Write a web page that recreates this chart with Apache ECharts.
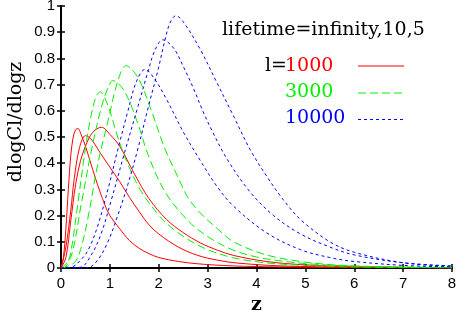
<!DOCTYPE html>
<html>
<head>
<meta charset="utf-8">
<script src="https://cdn.jsdelivr.net/npm/echarts@6/dist/echarts.min.js"></script>
<style>
html,body{margin:0;padding:0;background:#fff;}
#chart{width:458px;height:319px;}
</style>
</head>
<body>
<div id="chart"></div>
<script>
// x-axis ticks and y-axis ticks
var xTicks = [0,1,2,3,4,5,6,7,8];
var yTicks = [0,0.1,0.2,0.3,0.4,0.5,0.6,0.7,0.8,0.9,1];

// l=1000 (red, solid) — lifetime = infinity, 10, 5
var redA_z = [0,0.05,0.1,0.15,0.2,0.25,0.3,0.35,0.4,0.5,0.6,0.7,0.8,0.9,1.0,1.2,1.4,1.6,1.8,2.0,2.4,2.8,3.5,4.5,6,8];
var redA_v = [0,0.04,0.15,0.3,0.43,0.5,0.528,0.532,0.515,0.465,0.405,0.345,0.29,0.24,0.2,0.15,0.105,0.075,0.055,0.04,0.025,0.016,0.008,0.004,0.002,0.001];
var redB_z = [0,0.1,0.2,0.27,0.38,0.5,0.6,0.7,0.8,1.0,1.2,1.4,1.6,1.8,2.0,2.4,2.8,3.2,3.6,4.5,6,8];
var redB_v = [0,0.08,0.22,0.34,0.46,0.505,0.495,0.47,0.44,0.385,0.33,0.27,0.215,0.165,0.13,0.08,0.048,0.03,0.019,0.008,0.003,0.001];
var redC_z = [0,0.1,0.2,0.3,0.4,0.5,0.6,0.7,0.83,1.0,1.2,1.5,1.8,2.16,2.5,2.85,3.2,3.53,4.2,4.9,6,8];
var redC_v = [0,0.04,0.18,0.32,0.41,0.465,0.505,0.527,0.537,0.51,0.465,0.36,0.265,0.185,0.135,0.096,0.068,0.048,0.025,0.013,0.005,0.001];

// l=3000 (green, dashed)
var grnA_z = [0,0.1,0.2,0.34,0.51,0.62,0.72,0.8,0.96,1.16,1.37,1.64,1.99,2.26,2.6,3.0,3.5,4.0,4.5,5,6,8];
var grnA_v = [0,0.005,0.06,0.24,0.47,0.585,0.655,0.672,0.62,0.5,0.395,0.293,0.204,0.154,0.109,0.07,0.04,0.024,0.015,0.01,0.004,0.001];
var grnB_z = [0,0.2,0.41,0.62,0.82,0.96,1.06,1.3,1.58,1.78,2.12,2.6,3.0,3.5,4.0,4.5,5,6,8];
var grnB_v = [0,0.04,0.24,0.446,0.61,0.687,0.715,0.674,0.547,0.433,0.293,0.18,0.12,0.07,0.042,0.027,0.017,0.007,0.002];
var grnC_z = [0,0.27,0.4,0.55,0.75,0.96,1.16,1.33,1.58,1.85,2.12,2.4,2.6,2.85,3.2,3.53,4.2,4.9,5.5,6,7,8];
var grnC_v = [0,0.02,0.07,0.19,0.395,0.56,0.712,0.772,0.725,0.6,0.458,0.344,0.268,0.21,0.15,0.1,0.05,0.025,0.013,0.008,0.003,0.001];

// l=10000 (blue, dotted)
var bluA_z = [0,0.2,0.4,0.56,0.75,0.96,1.16,1.37,1.54,1.72,1.92,2.17,2.5,2.85,3.19,3.53,4.21,4.9,5.5,6,7,8];
var bluA_v = [0,0.002,0.03,0.07,0.16,0.3,0.45,0.6,0.71,0.758,0.72,0.64,0.52,0.41,0.312,0.236,0.134,0.07,0.04,0.025,0.01,0.004];
var bluB_z = [0,0.4,0.62,0.82,1.03,1.3,1.58,1.78,1.92,2.08,2.3,2.5,2.7,2.9,3.1,3.4,3.87,4.35,4.9,5.5,6,7,8];
var bluB_v = [0,0.003,0.05,0.13,0.26,0.44,0.62,0.75,0.83,0.871,0.84,0.77,0.69,0.6,0.52,0.415,0.29,0.2,0.13,0.08,0.05,0.02,0.008];
var bluC_z = [0,0.55,0.75,0.96,1.16,1.37,1.58,1.78,1.99,2.12,2.23,2.35,2.5,2.85,3.19,3.53,3.87,4.21,4.55,4.9,5.5,6,7,8];
var bluC_v = [0,0.002,0.03,0.1,0.2,0.32,0.46,0.61,0.76,0.865,0.935,0.963,0.94,0.834,0.707,0.58,0.452,0.35,0.26,0.185,0.1,0.06,0.02,0.006];

function pairs(zs, vs){ return zs.map(function(z,i){ return [z, vs[i]]; }); }

var RED = '#ff0000', GREEN = '#00f000', BLUE = '#0000ff';
var DASH = [8,4], DOT = [3,3];
var curves = [
  {z:redA_z, v:redA_v, c:RED, t:'solid'},
  {z:redB_z, v:redB_v, c:RED, t:'solid'},
  {z:redC_z, v:redC_v, c:RED, t:'solid'},
  {z:grnA_z, v:grnA_v, c:GREEN, t:DASH},
  {z:grnB_z, v:grnB_v, c:GREEN, t:DASH},
  {z:grnC_z, v:grnC_v, c:GREEN, t:DASH},
  {z:bluA_z, v:bluA_v, c:BLUE, t:DOT},
  {z:bluB_z, v:bluB_v, c:BLUE, t:DOT},
  {z:bluC_z, v:bluC_v, c:BLUE, t:DOT}
];

var chart = echarts.init(document.getElementById('chart'), null, {renderer:'canvas'});
var sans = 'Liberation Sans';
var serif = 'DejaVu Serif';
var axisLine = {show:true, lineStyle:{color:'#000', width:2}};
var tickIn = {show:true, inside:true, length:4, lineStyle:{color:'#000', width:1.5}};

var option = {
  animation:false,
  backgroundColor:'#fff',
  grid:{left:61, right:6, top:6, bottom:51, containLabel:false, outerBoundsMode:'none'},
  xAxis:[
    {type:'value', min:xTicks[0], max:xTicks[xTicks.length-1], interval:1, position:'bottom',
     axisLine:axisLine, axisTick:tickIn, splitLine:{show:false},
     axisLabel:{color:'#000', fontFamily:sans, fontSize:15, margin:8},
     name:'z', nameLocation:'middle', nameGap:28,
     nameTextStyle:{color:'#000', fontFamily:serif, fontSize:19, fontWeight:'bold'}},
    {type:'value', min:xTicks[0], max:xTicks[xTicks.length-1], interval:1, position:'top',
     axisLine:axisLine, axisTick:tickIn, axisLabel:{show:false}, splitLine:{show:false}}
  ],
  yAxis:[
    {type:'value', min:yTicks[0], max:yTicks[yTicks.length-1], interval:0.1, position:'left',
     axisLine:axisLine, axisTick:tickIn, splitLine:{show:false},
     axisLabel:{color:'#000', fontFamily:sans, fontSize:15, margin:6}},
    {type:'value', min:yTicks[0], max:yTicks[yTicks.length-1], interval:0.1, position:'right',
     axisLine:axisLine, axisTick:tickIn, axisLabel:{show:false}, splitLine:{show:false}}
  ],
  series: curves.map(function(cv){
    return {type:'line', xAxisIndex:0, yAxisIndex:0, data:pairs(cv.z, cv.v),
      showSymbol:false, smooth:0.35, clip:true, silent:true,
      lineStyle:{color:cv.c, width:1, type:cv.t}};
  }),
  graphic:[
    {type:'text', x:16, y:122, rotation:Math.PI/2,
     style:{text:'dlogCl/dlogz', fill:'#000', font:'19px "DejaVu Serif"', align:'center', verticalAlign:'middle'}},
    {type:'text', left:222, top:21, style:{text:'lifetime=infinity,10,5', fill:'#000', font:'19px "DejaVu Serif"'}},
    {type:'text', left:265, top:57, style:{text:'l=', fill:'#000', font:'19px "DejaVu Serif"'}},
    {type:'text', left:285, top:57, style:{text:'1000', fill:RED, font:'19px "DejaVu Serif"'}},
    {type:'text', left:285, top:83, style:{text:'3000', fill:GREEN, font:'19px "DejaVu Serif"'}},
    {type:'text', left:285, top:109, style:{text:'10000', fill:BLUE, font:'19px "DejaVu Serif"'}},
    {type:'line', shape:{x1:358, y1:66, x2:404, y2:66}, style:{stroke:RED, lineWidth:1}},
    {type:'line', shape:{x1:358, y1:93, x2:404, y2:93}, style:{stroke:GREEN, lineWidth:1, lineDash:DASH}},
    {type:'line', shape:{x1:358, y1:119.5, x2:404, y2:119.5}, style:{stroke:BLUE, lineWidth:1, lineDash:DOT}}
  ]
};
chart.setOption(option);
</script>
</body>
</html>
